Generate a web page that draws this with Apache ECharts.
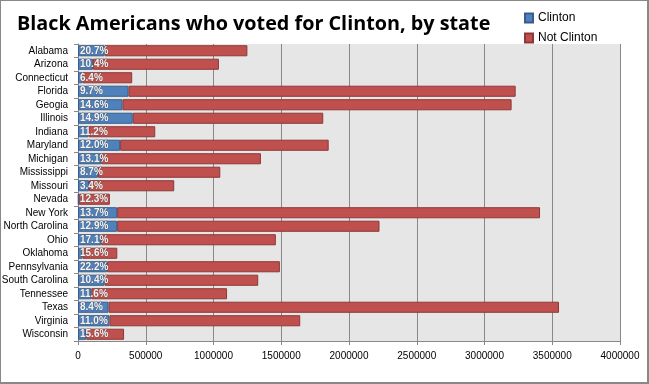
<!DOCTYPE html>
<html><head><meta charset="utf-8">
<script src="https://cdn.jsdelivr.net/npm/echarts@6/dist/echarts.min.js"></script>
<style>html,body{margin:0;padding:0;background:#fff}#c{width:649px;height:384px;box-sizing:border-box;border:1px solid #888;border-right:2px solid #888;border-bottom:2px solid #888}</style>
</head><body><div id="c"></div>
<script>
const states = ["Alabama","Arizona","Connecticut","Florida","Geogia","Illinois","Indiana","Maryland","Michigan","Mississippi","Missouri","Nevada","New York","North Carolina","Ohio","Oklahoma","Pennsylvania","South Carolina","Tennessee","Texas","Virginia","Wisconsin"];
const clinton = [196000,110000,32000,372000,328000,404000,78000,311000,171000,147000,81000,5000,289000,289000,171000,32000,215000,196000,98000,225000,232000,61000];
const notClinton = [1054000,930000,368000,2858000,2872000,1406000,492000,1539000,1179000,903000,629000,230000,3121000,1936000,1289000,258000,1275000,1134000,1002000,3325000,1408000,279000];
const pct = ["20.7%","10.4%","6.4%","9.7%","14.6%","14.9%","11.2%","12.0%","13.1%","8.7%","3.4%","12.3%","13.7%","12.9%","17.1%","15.6%","22.2%","10.4%","11.6%","8.4%","11.0%","15.6%"];
const xTicks = [0,500000,1000000,1500000,2000000,2500000,3000000,3500000,4000000];

const chart = echarts.init(document.getElementById('c'));
chart.setOption({
  animation:false,
  title:{text:"Black Americans who voted for Clinton, by state",left:11,top:8,
    textStyle:{fontFamily:"Open Sans",fontWeight:"bold",fontSize:19.8,color:"#000"}},
  legend:{orient:"vertical",left:518,top:6,itemWidth:8,itemHeight:9,itemGap:8,icon:"rect",
    textStyle:{fontFamily:"Liberation Sans",fontSize:12,color:"#000"},
    data:["Clinton","Not Clinton"]},
  grid:{left:77,right:27,top:43,bottom:41,backgroundColor:"#e6e6e6",show:true,borderWidth:0,
    containLabel:false,outerBoundsMode:"none"},
  xAxis:{type:"value",min:0,max:4000000,interval:500000,
    axisLine:{show:true,lineStyle:{color:"#888"}},
    axisTick:{show:true,length:4,lineStyle:{color:"#888"}},
    splitLine:{show:true,lineStyle:{color:"#888",width:1}},
    axisLabel:{fontFamily:"Liberation Sans",fontSize:10,color:"#000",margin:10,
      formatter:v=>xTicks.includes(v)?String(v):""}},
  yAxis:{type:"category",inverse:true,data:states,
    axisLine:{show:true,lineStyle:{color:"#888"}},
    axisTick:{show:true,length:4,lineStyle:{color:"#888"}},
    axisLabel:{fontFamily:"Liberation Sans",fontSize:10,color:"#000",margin:10}},
  series:[
    {name:"Clinton",type:"bar",stack:"t",data:clinton,barCategoryGap:"18%",
     itemStyle:{color:"#4f81bd",borderColor:"#385d8a",borderWidth:1},
     label:{show:true,position:"insideLeft",offset:[-3,0],formatter:p=>pct[p.dataIndex],
       color:"#f4f4f4",fontFamily:"Liberation Sans",fontWeight:"bold",fontSize:10,
       textBorderColor:"rgba(70,70,70,0.45)",textBorderWidth:1},z:3},
    {name:"Not Clinton",type:"bar",stack:"t",data:notClinton,
     itemStyle:{color:"#c0504d",borderColor:"#8c3836",borderWidth:1},z:2}
  ]
});
</script></body></html>
